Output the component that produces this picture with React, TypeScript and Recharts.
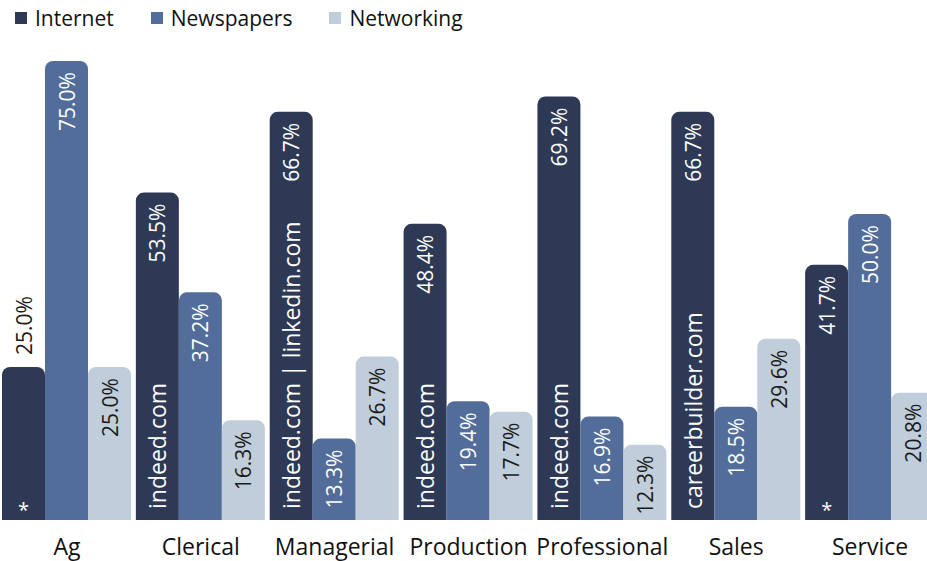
import React from "react";
import { BarChart, Bar, XAxis, YAxis, Legend, LabelList } from "recharts";

const categories = ["Ag", "Clerical", "Managerial", "Production", "Professional", "Sales", "Service"];
const internet = [25.0, 53.5, 66.7, 48.4, 69.2, 66.7, 41.7];
const newspapers = [75.0, 37.2, 13.3, 19.4, 16.9, 18.5, 50.0];
const networking = [25.0, 16.3, 26.7, 17.7, 12.3, 29.6, 20.8];
const internetNotes = ["*", "indeed.com", "indeed.com | linkedin.com", "indeed.com", "indeed.com", "careerbuilder.com", "*"];

const data = categories.map((name, i) => ({
  name,
  internet: internet[i],
  newspapers: newspapers[i],
  networking: networking[i],
  note: internetNotes[i],
}));

const COLORS = { internet: "#2e3a55", newspapers: "#526d9a", networking: "#c0cddb" };
const FONT = "'Open Sans', 'Noto Sans', sans-serif";

const makeValueLabel = (textColor: string, withNote: boolean) => (props: any) => {
  const { x, y, width, value, index } = props;
  const cx = Number(x) + Number(width) / 2;
  const note = withNote ? internetNotes[index] : "";
  const outside = note === "*" && Number(value) < 30;
  const ty = outside ? Number(y) - 12 : Number(y) + 11;
  return (
    <text
      x={cx}
      y={ty}
      transform={`rotate(-90, ${cx}, ${ty})`}
      textAnchor={outside ? "start" : "end"}
      dominantBaseline="central"
      fontSize={21}
      fontFamily={FONT}
      fill={outside ? "#1a1a1a" : textColor}
    >
      {Number(value).toFixed(1)}%
    </text>
  );
};

const noteLabel = (props: any) => {
  const { x, y, width, height, value } = props;
  const cx = Number(x) + Number(width) / 2;
  const bottom = Number(y) + Number(height);
  if (value === "*") {
    return (
      <text x={cx} y={bottom - 3} textAnchor="middle" fontSize={20} fontFamily={FONT} fill="#ffffff">
        *
      </text>
    );
  }
  const ty = bottom - 11;
  return (
    <text
      x={cx}
      y={ty}
      transform={`rotate(-90, ${cx}, ${ty})`}
      textAnchor="start"
      dominantBaseline="central"
      fontSize={23}
      fontFamily={FONT}
      fill="#ffffff"
    >
      {value}
    </text>
  );
};

const legendItems = [
  { label: "Internet", color: COLORS.internet },
  { label: "Newspapers", color: COLORS.newspapers },
  { label: "Networking", color: COLORS.networking },
];

const renderLegend = () => (
  <div style={{ display: "flex", alignItems: "center", height: 36, paddingLeft: 15, fontFamily: FONT, fontSize: 21, color: "#111" }}>
    {legendItems.map((it) => (
      <div key={it.label} style={{ display: "flex", alignItems: "center", marginRight: 37 }}>
        <span style={{ display: "inline-block", width: 12, height: 12, background: it.color, marginRight: 8 }} />
        <span>{it.label}</span>
      </div>
    ))}
  </div>
);

export default function App() {
  return (
    <div style={{ position: "absolute", left: 0, top: 0, width: 927, height: 561, overflow: "hidden", background: "#fff" }}>
      <BarChart
        width={937}
        height={561}
        data={data}
        margin={{ top: 25, right: 0, left: 0, bottom: 0 }}
        barGap={0}
        barSize={43}
      >
        <Legend verticalAlign="top" align="left" height={36} content={renderLegend} wrapperStyle={{ top: 0, left: 0 }} />
        <XAxis
          dataKey="name"
          height={41}
          tickLine={false}
          axisLine={false}
          tickSize={0}
          tickMargin={19}
          interval={0}
          tick={{ fontSize: 23, fill: "#111", fontFamily: FONT }}
        />
        <YAxis hide domain={[0, 75]} />
        <Bar dataKey="internet" fill={COLORS.internet} radius={[8, 8, 0, 0]} isAnimationActive={false}>
          <LabelList dataKey="internet" content={makeValueLabel("#ffffff", true)} />
          <LabelList dataKey="note" content={noteLabel} />
        </Bar>
        <Bar dataKey="newspapers" fill={COLORS.newspapers} radius={[8, 8, 0, 0]} isAnimationActive={false}>
          <LabelList dataKey="newspapers" content={makeValueLabel("#ffffff", false)} />
        </Bar>
        <Bar dataKey="networking" fill={COLORS.networking} radius={[8, 8, 0, 0]} isAnimationActive={false}>
          <LabelList dataKey="networking" content={makeValueLabel("#1a1a1a", false)} />
        </Bar>
      </BarChart>
    </div>
  );
}
